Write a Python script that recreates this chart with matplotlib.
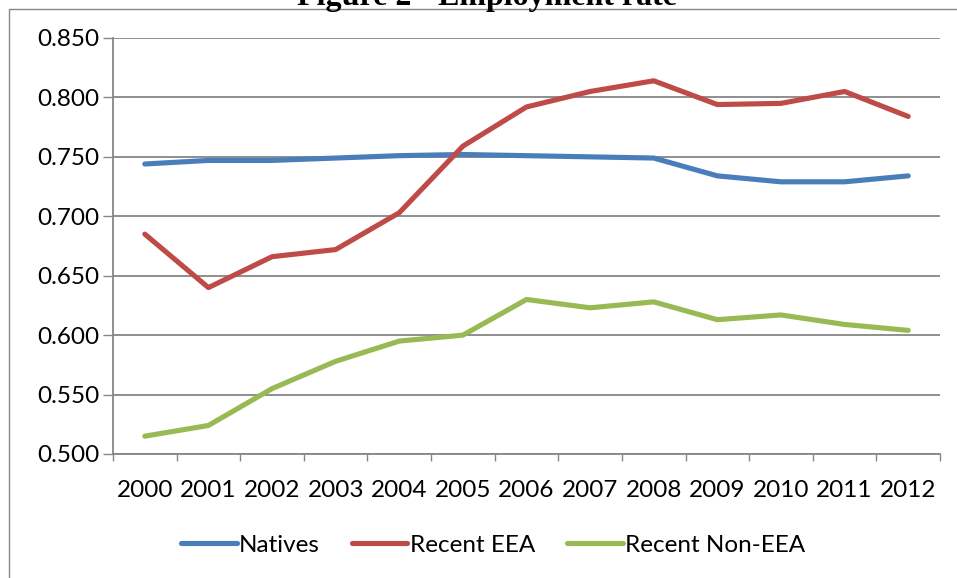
import matplotlib
matplotlib.use("Agg")
import matplotlib.pyplot as plt
from matplotlib.patches import Rectangle

years = ["2000", "2001", "2002", "2003", "2004", "2005", "2006",
         "2007", "2008", "2009", "2010", "2011", "2012"]
natives = [0.744, 0.747, 0.747, 0.749, 0.751, 0.752, 0.751,
           0.750, 0.749, 0.734, 0.729, 0.729, 0.734]
recent_eea = [0.685, 0.640, 0.666, 0.672, 0.703, 0.759, 0.792,
              0.805, 0.814, 0.794, 0.795, 0.805, 0.784]
recent_non_eea = [0.515, 0.524, 0.555, 0.578, 0.595, 0.600, 0.630,
                  0.623, 0.628, 0.613, 0.617, 0.609, 0.604]
y_ticks = [0.500, 0.550, 0.600, 0.650, 0.700, 0.750, 0.800, 0.850]

plt.rcParams["font.family"] = ["Lato", "DejaVu Sans"]
grey = "#868686"

fig = plt.figure(figsize=(9.57, 5.78), dpi=100)
ax = fig.add_axes([113 / 957, 124 / 578, 827 / 957, 416 / 578])

x = range(len(years))
ax.plot(x, natives, color="#4A7EBB", lw=3.7, solid_capstyle="round", label="Natives")
ax.plot(x, recent_eea, color="#BE4B48", lw=3.7, solid_capstyle="round", label="Recent EEA")
ax.plot(x, recent_non_eea, color="#98B954", lw=3.7, solid_capstyle="round", label="Recent Non-EEA")

ax.set_xlim(-0.5, len(years) - 0.5)
ax.set_ylim(0.5, 0.85)
ax.set_yticks(y_ticks)
ax.set_yticklabels([f"{v:.3f}" for v in y_ticks], fontsize=17.5)
ax.set_xticks([i - 0.5 for i in range(len(years) + 1)], minor=False)
ax.set_xticklabels([])
ax.set_xticks(list(x), minor=True)
ax.set_xticklabels(years, minor=True, fontsize=17.5)
ax.tick_params(axis="x", which="major", length=5, color=grey, width=1)
ax.tick_params(axis="x", which="minor", length=0, pad=19)
ax.tick_params(axis="y", length=7, color=grey, width=1, pad=3)

ax.grid(axis="y", color=grey, lw=1.3)
ax.set_axisbelow(True)
for s in ["top", "right"]:
    ax.spines[s].set_visible(False)
for s in ["left", "bottom"]:
    ax.spines[s].set_color(grey)
    ax.spines[s].set_linewidth(1.3)

fig.legend(loc="center", bbox_to_anchor=(493 / 957, 1 - 545 / 578), ncol=3, frameon=False,
           fontsize=17.5, handlelength=2.3, handletextpad=0.1, columnspacing=1.3)

fig.patches.append(Rectangle((9 / 957, -0.1), 1.2, 1.1 - 9 / 578, transform=fig.transFigure,
                             fill=False, edgecolor=grey, lw=1))
fig.text(487 / 957, 1 - 5 / 578, "Figure 2 - Employment rate", ha="center", va="baseline",
         fontsize=23, fontweight="bold", family=["Liberation Serif"])

fig.savefig("out.png", dpi=100)
